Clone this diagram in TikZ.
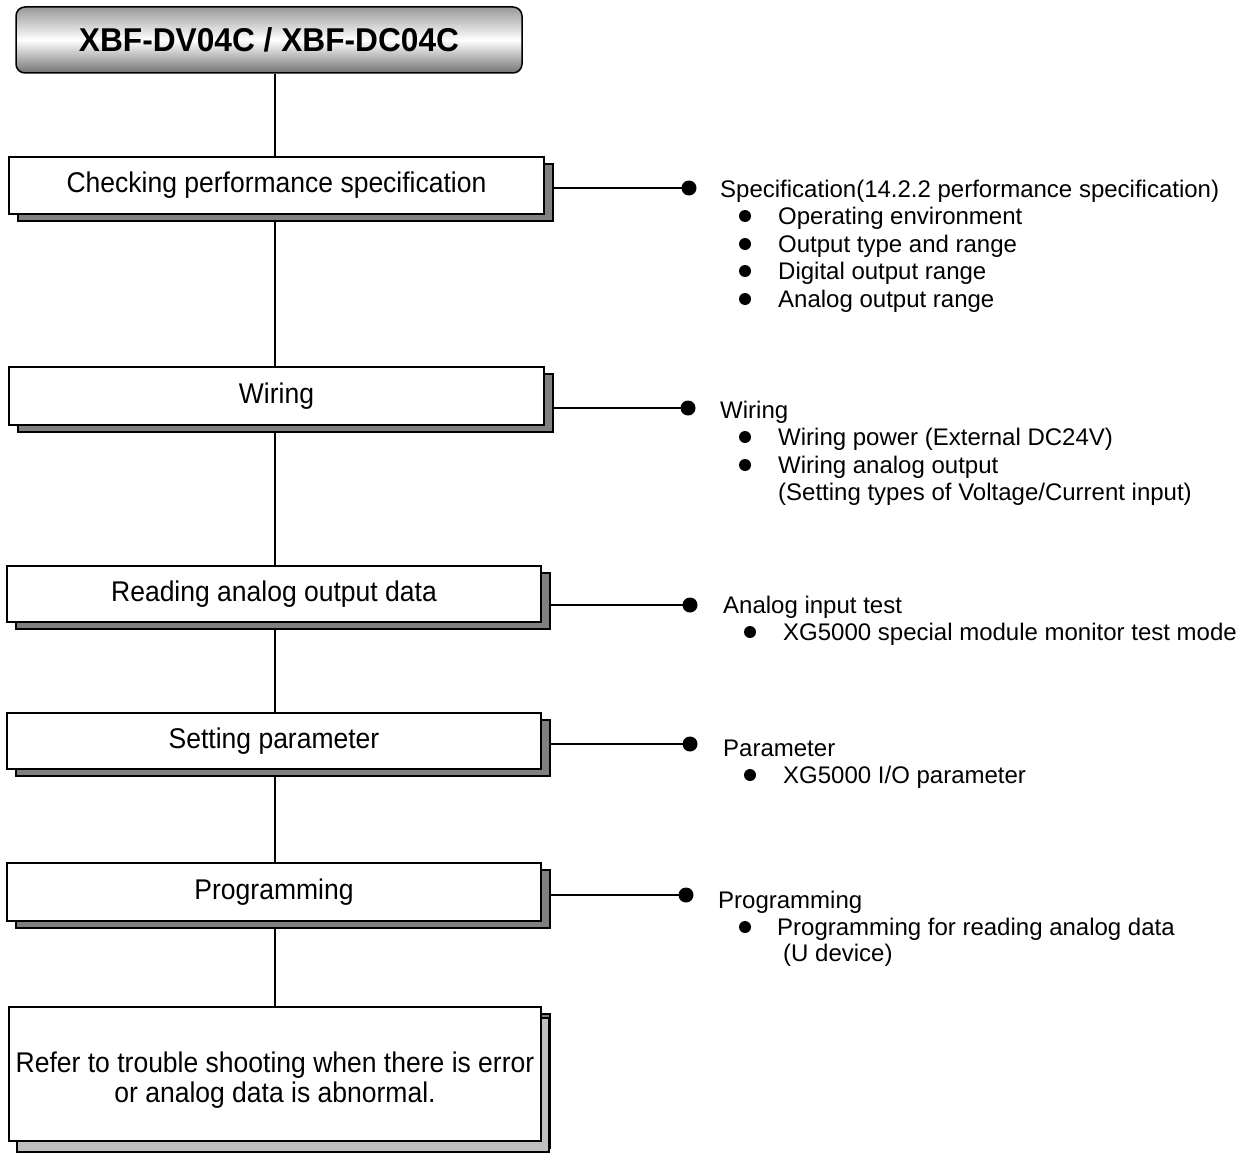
\documentclass[tikz,border=0pt]{standalone}
\usepackage{fontspec}
\setmainfont{Liberation Sans}
\newfontfamily\boxfont[FakeStretch=0.93]{Liberation Sans}
\newfontfamily\titlefont[FakeStretch=0.96]{Liberation Sans}
\usetikzlibrary{shadows,backgrounds}
\begin{document}
\begin{tikzpicture}[x=1pt,y=-1pt,
  line/.style={draw=black, line width=2pt},
  stepbox/.style={draw=black, line width=1.5pt, fill=white, inner sep=0pt,
    font=\boxfont\fontsize{28.5}{30}\selectfont,
    copy shadow={shadow xshift=9pt, shadow yshift=-7pt, fill=black!50, draw=black, line width=1.5pt}},
  lastbox/.style={stepbox,
    copy shadow={shadow xshift=8pt, shadow yshift=-11pt, fill=black!25, draw=black, line width=1.5pt}},
  titlebox/.style={draw=black, line width=1.5pt, rounded corners=9pt, inner sep=0pt,
    top color=black!40, bottom color=black!55, middle color=white,
    font=\titlefont\fontsize{33}{36}\selectfont\bfseries},
  enddot/.style={circle, fill=black, inner sep=0pt, minimum size=15pt},
  bul/.style={circle, fill=black, inner sep=0pt, minimum size=12pt},
  side/.style={anchor=base west, inner sep=0pt, font=\fontsize{24}{28}\selectfont}
]
\useasboundingbox (0,0) rectangle (1252,1153);
\coordinate (spine) at (275,0);

\node[titlebox, minimum width=506pt, minimum height=66pt] (title) at (269,40) {XBF-DV04C / XBF-DC04C};

\node[stepbox, minimum width=535pt, minimum height=57pt] (b1) at (276.5,185.5) {Checking performance specification};
\node[stepbox, minimum width=535pt, minimum height=58pt] (b2) at (276.5,396) {Wiring};
\node[stepbox, minimum width=534pt, minimum height=56pt] (b3) at (274,594) {Reading analog output data};
\node[stepbox, minimum width=534pt, minimum height=56pt] (b4) at (274,741) {Setting parameter};
\node[stepbox, minimum width=534pt, minimum height=58pt] (b5) at (274,892) {Programming};
\node[lastbox, minimum width=532pt, minimum height=134pt] (b6) at (275,1074)
  {\vbox{\vskip15pt\hbox{\begin{tabular}{@{}c@{}}Refer to trouble shooting when there is error\\or analog data is abnormal.\end{tabular}}}};

\node[enddot] (d1) at (689,188) {};
\node[enddot] (d2) at (688,408) {};
\node[enddot] (d3) at (690,605) {};
\node[enddot] (d4) at (690,744) {};
\node[enddot] (d5) at (686,895) {};

\begin{scope}[on background layer]
  \draw[line] (title.south -| spine) -- (b6.north -| spine);
  \draw[line] (b1.east |- d1) -- (d1.center);
  \draw[line] (b2.east |- d2) -- (d2.center);
  \draw[line] (b3.east |- d3) -- (d3.center);
  \draw[line] (b4.east |- d4) -- (d4.center);
  \draw[line] (b5.east |- d5) -- (d5.center);
\end{scope}

% group 1
\node[side] (s1) at (720,197) {Specification(14.2.2 performance specification)};
\node[bul] (s1b1) at (745,216) {};
\node[side] (s1t1) at (778,224) {Operating environment};
\node[bul] (s1b2) at (745,244) {};
\node[side] (s1t2) at (778,252) {Output type and range};
\node[bul] (s1b3) at (745,271) {};
\node[side] (s1t3) at (778,279) {Digital output range};
\node[bul] (s1b4) at (745,299) {};
\node[side] (s1t4) at (778,307) {Analog output range};

% group 2
\node[side] (s2) at (720,418) {Wiring};
\node[bul] (s2b1) at (745,437) {};
\node[side] (s2t1) at (778,445) {Wiring power (External DC24V)};
\node[bul] (s2b2) at (745,465) {};
\node[side] (s2t2) at (778,473) {Wiring analog output};
\node[side] (s2t3) at (778,500) {(Setting types of Voltage/Current input)};

% group 3
\node[side] (s3) at (723,613) {Analog input test};
\node[bul] (s3b1) at (750,632) {};
\node[side] (s3t1) at (783,640) {XG5000 special module monitor test mode};

% group 4
\node[side] (s4) at (723,756) {Parameter};
\node[bul] (s4b1) at (750,775) {};
\node[side] (s4t1) at (783,783) {XG5000 I/O parameter};

% group 5
\node[side] (s5) at (718,908) {Programming};
\node[bul] (s5b1) at (745,927) {};
\node[side] (s5t1) at (777,935) {Programming for reading analog data};
\node[side] (s5t2) at (783,961) {(U device)};
\end{tikzpicture}
\end{document}
